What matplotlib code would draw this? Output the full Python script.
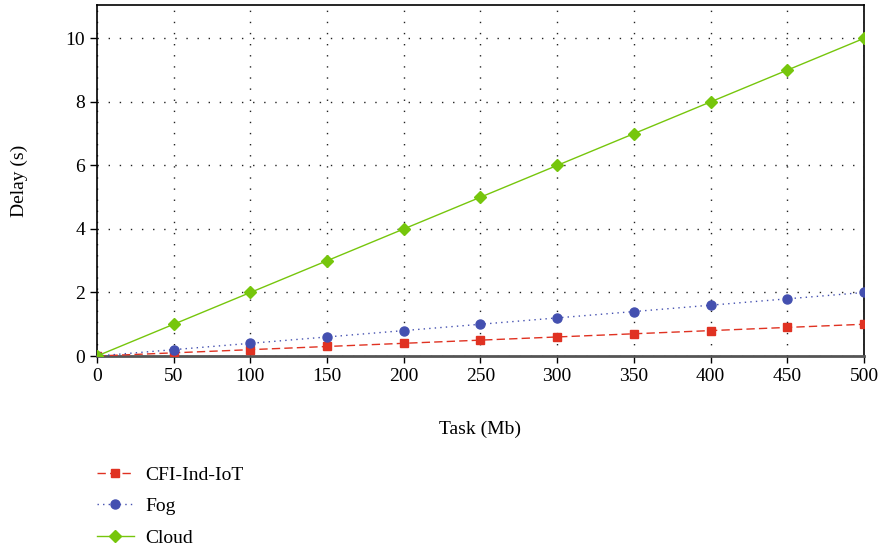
import matplotlib.pyplot as plt

task = [0, 50, 100, 150, 200, 250, 300, 350, 400, 450, 500]
cfi = [0, 0.1, 0.2, 0.3, 0.4, 0.5, 0.6, 0.7, 0.8, 0.9, 1.0]
fog = [0, 0.2, 0.4, 0.6, 0.8, 1.0, 1.2, 1.4, 1.6, 1.8, 2.0]
cloud = [0, 1, 2, 3, 4, 5, 6, 7, 8, 9, 10]

plt.rcParams['font.family'] = ['Liberation Serif', 'DejaVu Serif']
plt.rcParams['font.size'] = 14

fig = plt.figure(figsize=(8.8, 5.5), dpi=100)
ax = fig.add_axes([0.1102, 0.3527, 0.8716, 0.6382])

ax.plot(task, cfi, color='#e03222', linestyle=(0, (6, 3)), linewidth=1.0,
        marker='s', markersize=5.5, label='CFI-Ind-IoT', zorder=3)
ax.plot(task, fog, color='#4450b0', linestyle=(0, (1, 3)), linewidth=1.0,
        marker='o', markersize=6.5, label='Fog', zorder=3)
ax.plot(task, cloud, color='#76c60c', linestyle='-', linewidth=1.0,
        marker='D', markersize=6.5, label='Cloud', zorder=3)

ax.set_xlim(0, 500)
ax.set_ylim(0, 11.05)
ax.set_xticks(task)
ax.set_yticks([0, 2, 4, 6, 8, 10])
ax.grid(True, color='#222222', linestyle=(0, (1, 7)), linewidth=1.0)
ax.tick_params(direction='out', length=5, width=1, labelsize=14)
for s in ax.spines.values():
    s.set_linewidth(1.2)
ax.spines['bottom'].set_color('#555555')
ax.spines['bottom'].set_linewidth(2)

ax.set_xlabel('Task (Mb)', fontsize=14, labelpad=26)
ax.set_ylabel('Delay (s)', fontsize=14, labelpad=27)

ax.legend(loc='upper left', bbox_to_anchor=(0.0, -0.3135), frameon=False,
          fontsize=14, handlelength=1.9, handletextpad=0.6, labelspacing=0.72,
          borderaxespad=0, borderpad=0)

fig.savefig('out.png', dpi=100)
